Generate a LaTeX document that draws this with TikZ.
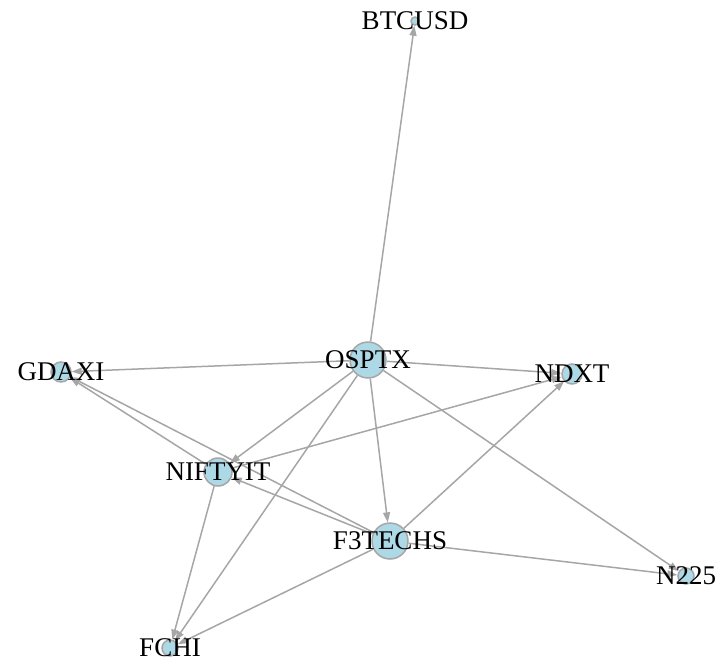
\documentclass[tikz,border=0pt]{standalone}
\usepackage{fontspec}
\setmainfont{Liberation Serif}
\usetikzlibrary{arrows.meta}

\definecolor{edgegray}{HTML}{A6A6A6}
\definecolor{nodeblue}{HTML}{ADD8E6}

\tikzset{
  ticker/.style={circle,draw=edgegray,line width=1.5pt,fill=nodeblue,
    inner sep=0pt,minimum size=#1},
  tickname/.style={font=\fontsize{27}{30}\selectfont,inner sep=0pt},
  link/.style={draw=edgegray,line width=1.5pt,
    -{Triangle[length=10pt,width=7pt]}}
}

\begin{document}
\begin{tikzpicture}[x=1pt,y=-1pt]
\useasboundingbox (0,0) rectangle (720,665);

% Nodes
\node[ticker=36pt] (OSPTX)   at (368,360) {};
\node[ticker=36pt] (F3TECHS) at (390,541) {};
\node[ticker=28pt] (NIFTYIT) at (218,472) {};
\node[ticker=20pt] (GDAXI)   at (61,372)  {};
\node[ticker=20pt] (NDXT)    at (572,374) {};
\node[ticker=16pt] (N225)    at (686,576) {};
\node[ticker=16pt] (FCHI)    at (170,648) {};
\node[ticker=8pt]  (BTCUSD)  at (415,21)  {};

% Edges
\foreach \t in {BTCUSD,GDAXI,NDXT,NIFTYIT,F3TECHS,FCHI,N225}
  \draw[link] (OSPTX) -- (\t);
\foreach \t in {GDAXI,NDXT,FCHI}
  \draw[link] (NIFTYIT) -- (\t);
\foreach \t in {GDAXI,NIFTYIT,NDXT,FCHI,N225}
  \draw[link] (F3TECHS) -- (\t);

% Labels
\foreach \n in {OSPTX,F3TECHS,NIFTYIT,GDAXI,NDXT,N225,FCHI,BTCUSD}
  \node[tickname] (\n-label) at (\n) {\n};
\end{tikzpicture}
\end{document}
